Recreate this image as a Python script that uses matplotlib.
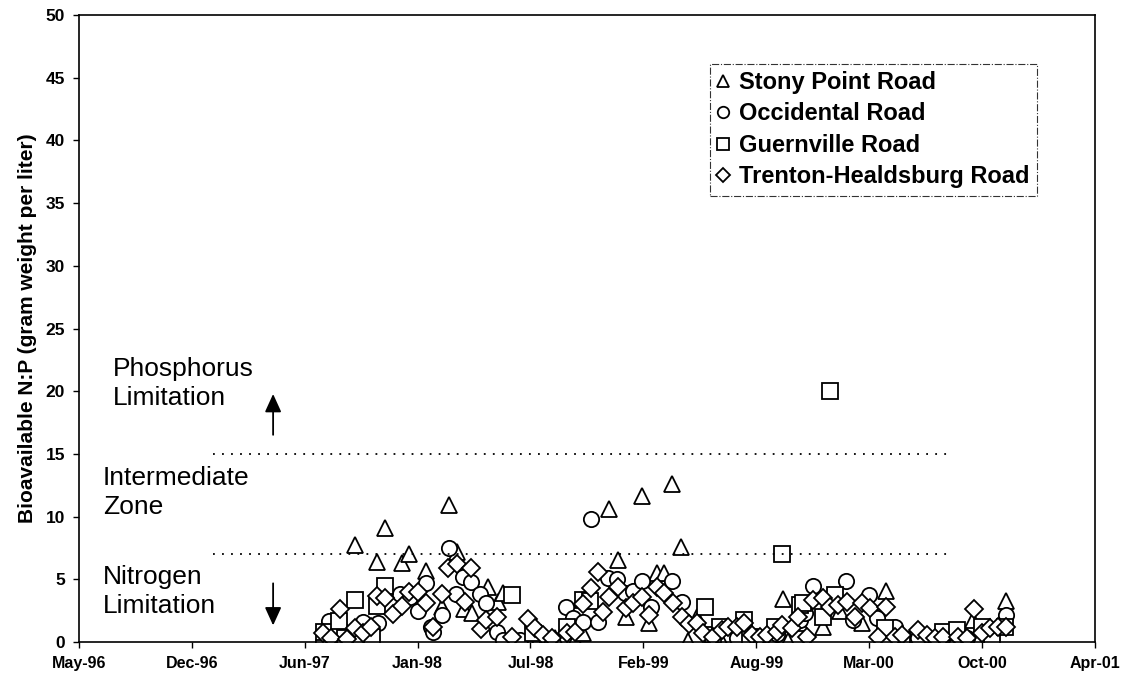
import matplotlib
matplotlib.use("Agg")
import matplotlib.pyplot as plt
import matplotlib.dates as mdates
import numpy as np
import pandas as pd

# sampling dates and bioavailable N:P
stony_dates = ['1997-08-03', '1997-08-30', '1997-09-17', '1997-10-05', '1997-10-26', '1997-11-09',
               '1997-12-09', '1997-12-22', '1998-01-21', '1998-02-18', '1998-03-02', '1998-03-16',
               '1998-03-29', '1998-04-12', '1998-05-10', '1998-05-28', '1998-06-06', '1998-08-11',
               '1998-09-06', '1998-10-12', '1998-10-26', '1998-12-11', '1998-12-27', '1999-01-10',
               '1999-02-08', '1999-02-20', '1999-03-06', '1999-03-18', '1999-04-01', '1999-04-17',
               '1999-04-30', '1999-05-16', '1999-06-25', '1999-07-31', '1999-09-04', '1999-10-15',
               '1999-10-24', '1999-11-14', '1999-12-25', '2000-01-24', '2000-03-03', '2000-04-14',
               '2000-05-09', '2000-07-01', '2000-08-06', '2000-09-16', '2000-10-16', '2000-11-13']
stony_np = [0.5, 1.0, 7.7, 1.2, 6.4, 9.1,
            6.3, 7.0, 5.7, 2.8, 10.9, 7.2,
            2.6, 2.3, 4.4, 3.2, 3.9, 0.5,
            0.3, 0.15, 0.7, 10.6, 6.5, 2.0,
            11.65, 1.5, 5.5, 5.5, 12.6, 7.6,
            0.1, 2.0, 0.3, 0.6, 0.3, 3.4,
            0.1, 1.5, 1.2, 2.5, 1.5, 4.1,
            0.4, 0.3, 0.5, 1.75, 0.8, 3.3]

occ_dates = ['1997-07-22', '1997-08-02', '1997-09-20', '1997-10-01', '1997-10-28', '1997-12-06',
             '1997-12-23', '1998-01-06', '1998-01-21', '1998-01-30', '1998-02-02', '1998-02-18',
             '1998-03-02', '1998-03-15', '1998-03-27', '1998-04-10', '1998-04-26', '1998-05-08',
             '1998-05-26', '1998-06-06', '1998-07-06', '1998-08-23', '1998-09-26', '1998-10-08',
             '1998-10-26', '1998-11-09', '1998-11-22', '1998-12-10', '1998-12-26', '1999-01-09',
             '1999-01-23', '1999-02-08', '1999-02-23', '1999-04-01', '1999-04-19', '1999-06-13',
             '1999-07-26', '1999-09-04', '1999-10-04', '1999-11-14', '1999-11-23', '1999-12-07',
             '2000-02-04', '2000-02-16', '2000-03-16', '2000-03-30', '2000-04-30', '2000-06-10',
             '2000-07-24', '2000-09-05', '2000-11-13']
occ_np = [0.0, 1.7, 0.2, 1.6, 1.5, 3.8,
          3.6, 2.5, 4.7, 1.2, 0.8, 2.15,
          7.5, 3.8, 5.2, 4.8, 3.8, 3.1,
          0.8, 0.15, 0.15, 0.0, 2.8, 1.9,
          1.6, 9.8, 1.6, 5.1, 5.0, 3.9,
          4.1, 4.9, 2.8, 4.9, 3.2, 0.5,
          0.3, 0.3, 0.6, 1.75, 2.3, 4.5,
          4.9, 1.75, 3.75, 1.9, 1.2, 0.3,
          0.4, 0.3, 2.15]

guern_dates = ['1997-07-24', '1997-08-19', '1997-08-30', '1997-09-17', '1997-10-17', '1997-10-26',
               '1997-11-09', '1998-06-22', '1998-07-29', '1998-09-27', '1998-10-26', '1998-11-07',
               '1999-05-30', '1999-06-13', '1999-06-25', '1999-08-07', '1999-08-18', '1999-10-01',
               '1999-10-13', '1999-11-14', '1999-11-19', '1999-12-25', '2000-01-06', '2000-01-15',
               '2000-04-13', '2000-05-13', '2000-07-24', '2000-08-18', '2000-10-02', '2000-10-19',
               '2000-11-11']
guern_np = [0.8, 1.7, 0.3, 3.35, 0.4, 2.9,
            4.5, 3.75, 0.7, 1.2, 3.35, 3.25,
            2.8, 0.55, 1.2, 1.75, 0.4, 1.2,
            7.0, 2.95, 3.1, 2.0, 20.0, 3.75,
            1.1, 0.15, 0.8, 0.95, 1.2, 0.4,
            1.2]

trent_dates = ['1997-07-22', '1997-08-05', '1997-08-21', '1997-09-03', '1997-09-17', '1997-10-01',
               '1997-10-15', '1997-10-26', '1997-11-09', '1997-11-23', '1997-12-09', '1997-12-22',
               '1998-01-06', '1998-01-21', '1998-02-02', '1998-02-18', '1998-03-01', '1998-03-16',
               '1998-03-31', '1998-04-10', '1998-04-28', '1998-05-08', '1998-05-26', '1998-06-23',
               '1998-07-20', '1998-08-02', '1998-08-16', '1998-09-01', '1998-09-27', '1998-10-12',
               '1998-10-26', '1998-11-09', '1998-11-22', '1998-12-01', '1998-12-11', '1998-12-27',
               '1999-01-10', '1999-01-23', '1999-02-08', '1999-02-20', '1999-03-06', '1999-03-18',
               '1999-04-03', '1999-04-19', '1999-05-01', '1999-05-16', '1999-05-26', '1999-06-13',
               '1999-06-29', '1999-07-10', '1999-07-26', '1999-08-07', '1999-08-21', '1999-09-04',
               '1999-09-17', '1999-10-04', '1999-10-13', '1999-10-31', '1999-11-11', '1999-11-27',
               '1999-12-07', '1999-12-25', '2000-01-06', '2000-01-20', '2000-02-05', '2000-02-20',
               '2000-03-03', '2000-03-17', '2000-03-31', '2000-04-14', '2000-04-30', '2000-05-14',
               '2000-06-10', '2000-06-26', '2000-07-10', '2000-07-24', '2000-08-20', '2000-09-05',
               '2000-09-17', '2000-10-02', '2000-10-16', '2000-10-30', '2000-11-13']
trent_np = [0.7, 0.3, 2.6, 0.2, 1.1, 0.7,
            1.2, 3.7, 3.5, 2.2, 2.9, 4.0,
            4.0, 3.1, 1.2, 3.8, 5.9, 6.2,
            3.2, 5.9, 1.0, 1.75, 2.0, 0.4,
            1.8, 1.1, 0.55, 0.3, 0.7, 0.8,
            3.0, 4.3, 5.6, 2.4, 3.6, 4.4,
            2.7, 3.1, 3.6, 2.15, 4.4, 3.9,
            3.1, 2.0, 1.4, 1.5, 0.7, 0.4,
            0.95, 1.2, 1.2, 1.5, 0.55, 0.4,
            0.55, 0.8, 1.35, 1.1, 2.0, 0.4,
            3.35, 3.5, 2.8, 2.95, 3.2, 2.0,
            3.1, 2.7, 0.4, 2.8, 0.4, 0.55,
            0.95, 0.55, 0.3, 0.4, 0.4, 0.3,
            2.6, 0.7, 1.1, 1.2, 1.2]

series = [
    ('Stony Point Road', stony_dates, stony_np, '^'),
    ('Occidental Road', occ_dates, occ_np, 'o'),
    ('Guernville Road', guern_dates, guern_np, 's'),
    ('Trenton-Healdsburg Road', trent_dates, trent_np, 'D'),
]

# Excel style date axis: 200 day major unit
axis_start = pd.Timestamp('1996-05-16')
tick_dates = [axis_start + pd.Timedelta(days=200 * k) for k in range(10)]

plt.rcParams['font.family'] = ['Liberation Sans', 'DejaVu Sans']

fig = plt.figure(figsize=(11.23, 6.76), dpi=100)
ax = fig.add_axes([0.0703, 0.0503, 0.9047, 0.9275])

for name, dates, vals, mk in series:
    ms = 9.5 if mk == 'D' else 11
    ax.plot(pd.to_datetime(dates), vals, linestyle='none', marker=mk, markersize=ms,
            markerfacecolor='white', markeredgecolor='black', markeredgewidth=1.3,
            label=name)

# zone boundaries
line_x = pd.to_datetime(['1997-01-08', '2000-08-06'])
for yv in [15, 7]:
    ax.plot(line_x, [yv, yv], color='black', linestyle=(0, (1, 4)), linewidth=1.3)

txt_x = pd.Timestamp('1996-06-27')
ax.text(pd.Timestamp('1996-07-15'), 20.6, 'Phosphorus\nLimitation', fontsize=19,
        ha='left', va='center', linespacing=1.25)
ax.text(txt_x, 11.9, 'Intermediate\nZone', fontsize=19, ha='left', va='center', linespacing=1.25)
ax.text(txt_x, 4.0, 'Nitrogen\nLimitation', fontsize=19, ha='left', va='center', linespacing=1.25)

arr_x = mdates.date2num(pd.Timestamp('1997-04-25'))
ax.annotate('', xy=(arr_x, 20.0), xytext=(arr_x, 16.3),
            arrowprops=dict(arrowstyle='-|>,head_length=1.1,head_width=0.5', color='black', lw=1.3))
ax.annotate('', xy=(arr_x, 1.1), xytext=(arr_x, 4.9),
            arrowprops=dict(arrowstyle='-|>,head_length=1.1,head_width=0.5', color='black', lw=1.3))

ax.set_xlim(tick_dates[0], tick_dates[-1])
ax.set_ylim(0, 50)
ax.set_xticks(tick_dates)
ax.xaxis.set_major_formatter(mdates.DateFormatter('%b-%y'))
ax.set_yticks(np.arange(0, 51, 5))
for lab in ax.get_xticklabels():
    lab.set_fontfamily(['Liberation Sans Narrow', 'Liberation Sans'])
    lab.set_fontweight('bold')
    lab.set_fontsize(11.5)
for lab in ax.get_yticklabels():
    lab.set_fontweight('bold')
    lab.set_fontsize(12.5)
ax.tick_params(axis='both', direction='out', length=4, width=1, color='black', pad=6)
for sp in ax.spines.values():
    sp.set_linewidth(1.2)
    sp.set_color('black')

ax.set_ylabel('Bioavailable N:P (gram weight per liter)', fontsize=15, fontweight='bold', labelpad=6)

leg = ax.legend(loc='upper left', bbox_to_anchor=(0.621, 0.922), frameon=True, fancybox=False,
                prop={'weight': 'bold', 'size': 17}, handlelength=0.5, handletextpad=0.45,
                borderpad=0.3, labelspacing=0.36, markerscale=0.75, borderaxespad=0)
leg.get_frame().set_edgecolor('black')
leg.get_frame().set_linestyle('-.')
leg.get_frame().set_linewidth(0.8)

fig.savefig('out.png', dpi=100)
